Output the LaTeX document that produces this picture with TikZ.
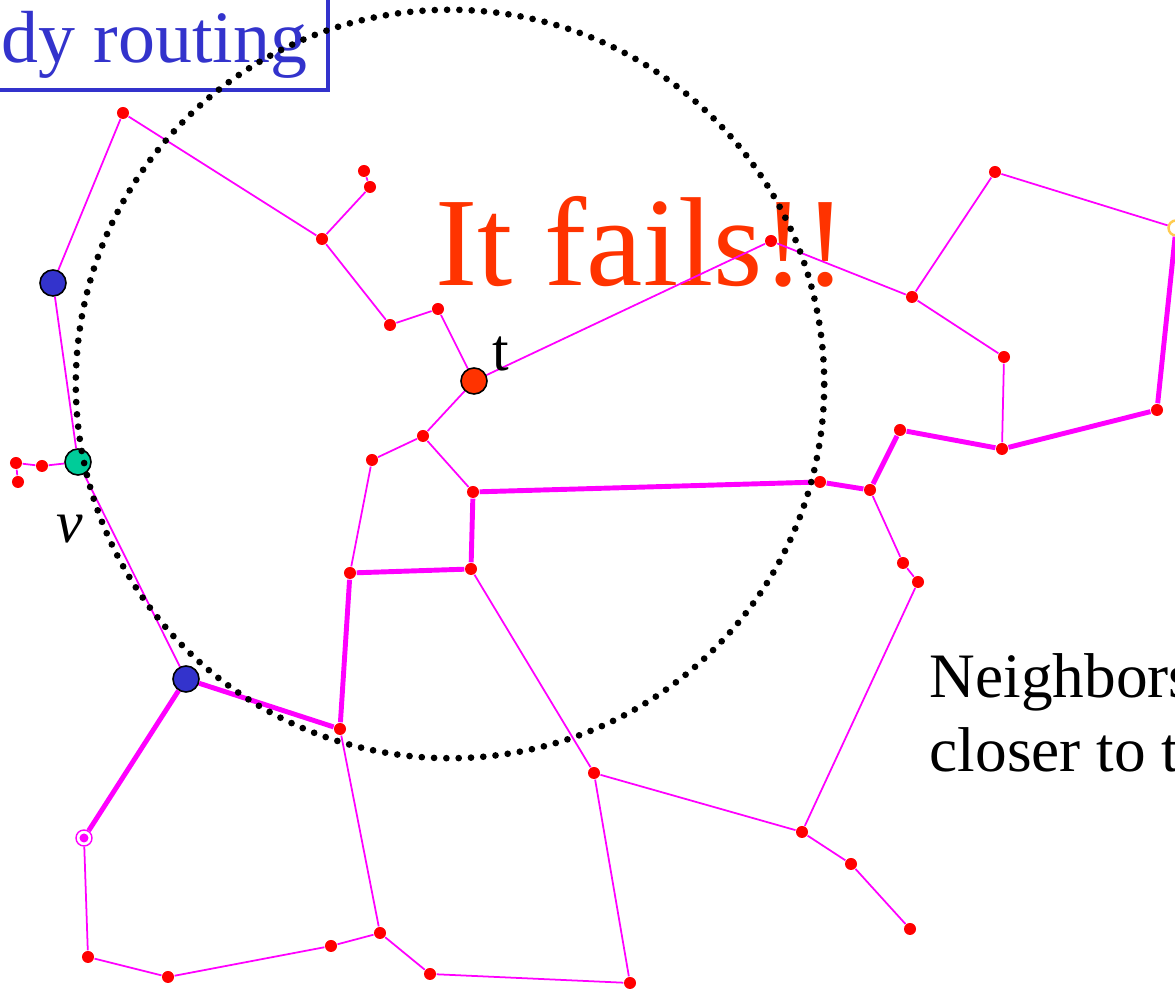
\documentclass[tikz,border=0pt]{standalone}
\usepackage{fontspec}
\setmainfont{Liberation Serif}
\usetikzlibrary{backgrounds}

\definecolor{failred}{RGB}{255,51,0}
\definecolor{titleblue}{RGB}{51,51,204}
\definecolor{probegreen}{RGB}{0,204,153}
\definecolor{linkpink}{RGB}{255,0,255}
\definecolor{dotred}{RGB}{255,0,0}
\definecolor{ringyellow}{RGB}{255,204,80}

\begin{document}
\begin{tikzpicture}[
  x=0.01cm, y=-0.01cm,
  dot/.style={circle, fill=dotred, inner sep=0pt, minimum size=0.12cm},
  probe/.style={circle, draw=black, line width=0.45pt, inner sep=0pt, minimum size=0.26cm},
  link/.style={draw=linkpink, line width=0.5pt},
  route/.style={draw=linkpink, line width=1.4pt},
  reach/.style={draw=black, line width=1.9pt, line cap=round, dash pattern=on 0pt off 3.5pt},
  tag/.style={anchor=base west, inner sep=0pt},
]
\useasboundingbox (0,0) rectangle (1175,989);
\clip (0,0) rectangle (1175,989);

% -- Title (cut at the page edge) --
\node[draw=titleblue, line width=1.4pt, text=titleblue, font=\fontsize{21}{24}\selectfont,
  text height=1cm, inner xsep=0.21cm, inner ysep=0.12cm, outer sep=0pt, anchor=south east] (title) at (328,90) {dy routing};

% -- Vertices, left part --
\node[dot] (u1) at (123,113) {};
\node[dot] (u2) at (364,171) {};
\node[dot] (u3) at (370,187) {};
\node[dot] (u4) at (322,239) {};
\node[dot] (u5) at (390,325) {};
\node[dot] (u6) at (438,309) {};
\node[dot] (u7) at (423,436) {};
\node[dot] (u8) at (372,460) {};
\node[dot] (u9) at (473,492) {};
\node[dot] (u10) at (350,573) {};
\node[dot] (u11) at (471,569) {};
\node[dot] (u12) at (340,729) {};
\node[dot] (u13) at (42,466) {};
\node[dot] (u14) at (16,463) {};
\node[dot] (u15) at (18,482) {};

% -- Vertices, right part --
\node[dot] (u16) at (771,241) {};
\node[dot] (u17) at (912,297) {};
\node[dot] (u18) at (995,172) {};
\node[dot] (u19) at (1004,357) {};
\node[dot] (u20) at (1002,449) {};
\node[dot] (u21) at (1157,410) {};
\node[dot] (u22) at (900,430) {};
\node[dot] (u23) at (870,490) {};
\node[dot] (u24) at (820,482) {};
\node[dot] (u25) at (903,563) {};
\node[dot] (u26) at (918,582) {};
\node[dot] (u27) at (802,832) {};
\node[dot] (u28) at (851,864) {};
\node[dot] (u29) at (910,929) {};

% -- Vertices, bottom part --
\node[dot] (u30) at (594,773) {};
\node[dot] (u31) at (630,983) {};
\node[dot] (u32) at (430,974) {};
\node[dot] (u33) at (380,933) {};
\node[dot] (u34) at (331,946) {};
\node[dot] (u35) at (168,977) {};
\node[dot] (u36) at (88,957) {};

% -- Special vertices --
\node[probe, fill=failred] (t) at (474,381) {};
\node[probe, fill=probegreen] (v) at (78,462) {};
\node[probe, fill=titleblue] (w1) at (53,283) {};
\node[probe, fill=titleblue] (w2) at (186,679) {};
\node[circle, draw=linkpink, line width=0.4pt, inner sep=0pt, minimum size=0.16cm,
  path picture={\fill[linkpink] (path picture bounding box.center) circle (0.045cm);}] (s) at (84,838) {};
\node[circle, draw=ringyellow, line width=0.7pt, inner sep=0pt, minimum size=0.15cm] (q) at (1176,228) {};

% -- Labels --
\node[tag, font=\fontsize{17}{20}\selectfont] (tlab) at (492,371) {t};
\node[tag, font=\fontsize{17}{20}\selectfont\itshape] (vlab) at (56,543) {v};
\node[tag, font=\fontsize{18}{21.3}\selectfont, align=left] (note) at (929,772) {Neighbors\\closer to t};

% -- Range of v --
\draw[reach] (450,384) circle [radius=3.74cm];

\begin{scope}[on background layer]
\clip (0,0) rectangle (1175,989);
\fill[white] (0,0) rectangle (1175,989);
\node[tag, font=\fontsize{36}{40}\selectfont, text=failred] (fails) at (435,286) {It fails!!};

% -- Edges --
\draw[link] (q) -- (u18) -- (u17) -- (u16) -- (t);
\draw[link] (u17) -- (u19) -- (u20);
\draw[link] (u23) -- (u25) -- (u26) -- (u27) -- (u30) -- (u11);
\draw[link] (u27) -- (u28) -- (u29);
\draw[link] (u30) -- (u31) -- (u32) -- (u33) -- (u12);
\draw[link] (u33) -- (u34) -- (u35) -- (u36) -- (s);
\draw[link] (w2) -- (v) -- (w1) -- (u1) -- (u4) -- (u3) -- (u2);
\draw[link] (u4) -- (u5) -- (u6) -- (t) -- (u7) -- (u8) -- (u10);
\draw[link] (u7) -- (u9);
\draw[link] (v) -- (u13) -- (u14) -- (u15);

% -- Route --
\draw[route] (q) -- (u21) -- (u20) -- (u22) -- (u23) -- (u24) -- (u9) -- (u11) -- (u10) -- (u12) -- (w2) -- (s);
\end{scope}
\end{tikzpicture}
\end{document}
